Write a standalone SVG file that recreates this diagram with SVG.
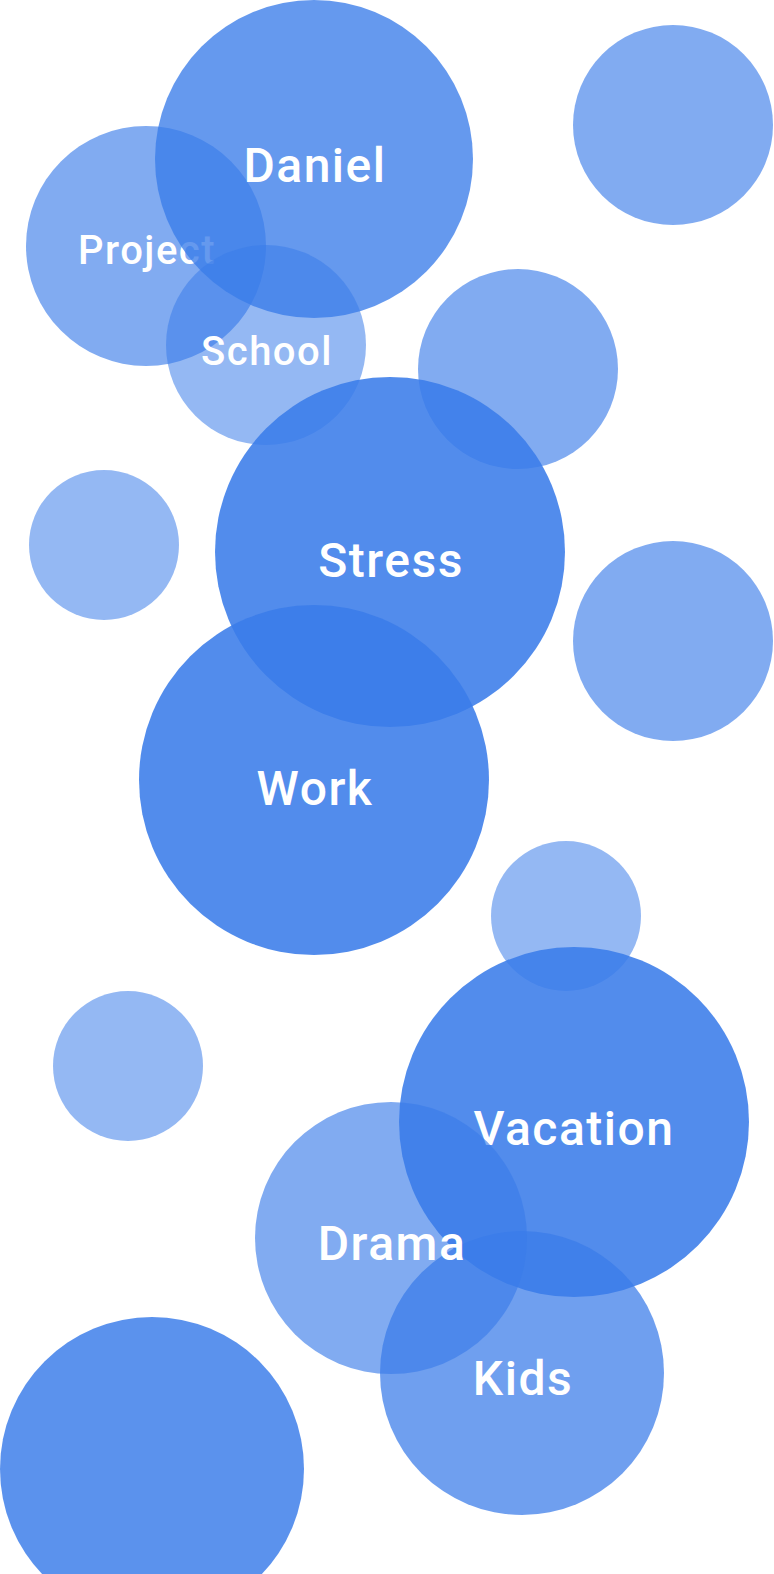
<svg xmlns="http://www.w3.org/2000/svg" width="774" height="1574" viewBox="0 0 774 1574">
<style>
circle{fill:#3a7ce9}
text{fill:#fff;font-family:Roboto,"Liberation Sans",sans-serif;font-weight:500;text-anchor:middle;letter-spacing:1.5px}
.lg{font-size:48px}
.md{font-size:40px}
</style>
<rect width="774" height="1574" fill="#fff"/>
<g id="connectors"/>
<g id="n-right-top"><circle cx="673" cy="125" r="100" fill-opacity="0.64"/></g>
<g id="n-project"><circle cx="146" cy="246" r="120" fill-opacity="0.64"/><text class="md" x="147" y="264">Project</text></g>
<g id="n-daniel"><circle cx="314" cy="159" r="159" fill-opacity="0.78"/><text class="lg" x="315" y="182">Daniel</text></g>
<g id="n-school"><circle cx="266" cy="345" r="100" fill-opacity="0.54"/><text class="md" x="267" y="365">School</text></g>
<g id="n-right-mid"><circle cx="518" cy="369" r="100" fill-opacity="0.64"/></g>
<g id="n-small-left1"><circle cx="104" cy="545" r="75" fill-opacity="0.54"/></g>
<g id="n-stress"><circle cx="390" cy="552" r="175" fill-opacity="0.88"/><text class="lg" x="391" y="577">Stress</text></g>
<g id="n-right-low"><circle cx="673" cy="641" r="100" fill-opacity="0.64"/></g>
<g id="n-work"><circle cx="314" cy="780" r="175" fill-opacity="0.88"/><text class="lg" x="315" y="805">Work</text></g>
<g id="n-small-right"><circle cx="566" cy="916" r="75" fill-opacity="0.54"/></g>
<g id="n-small-left2"><circle cx="128" cy="1066" r="75" fill-opacity="0.54"/></g>
<g id="n-vacation"><circle cx="574" cy="1122" r="175" fill-opacity="0.88"/><text class="lg" x="574" y="1145">Vacation</text></g>
<g id="n-kids"><circle cx="522" cy="1373" r="142" fill-opacity="0.73"/><text class="lg" x="523" y="1395">Kids</text></g>
<g id="n-drama"><circle cx="391" cy="1238" r="136" fill-opacity="0.64"/><text class="lg" x="392" y="1260">Drama</text></g>
<g id="n-bottom-left"><circle cx="152" cy="1469" r="152" fill-opacity="0.83"/></g>
</svg>
